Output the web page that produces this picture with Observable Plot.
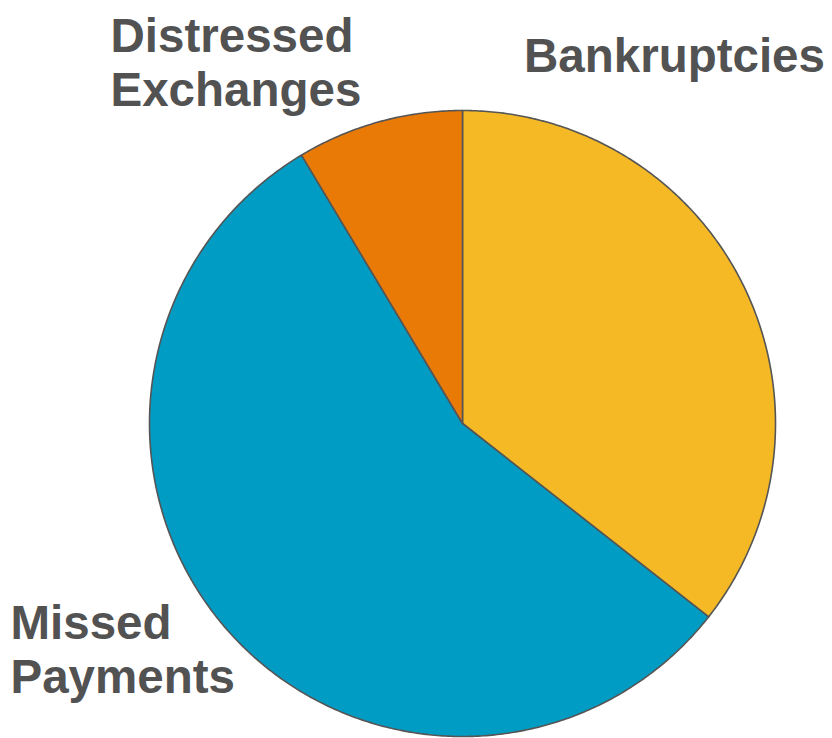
<!DOCTYPE html>
<html>
<head>
<meta charset="utf-8">
<script src="https://cdn.jsdelivr.net/npm/d3@7"></script>
<script src="https://cdn.jsdelivr.net/npm/@observablehq/plot@0.6"></script>
<style>
  html, body { margin: 0; padding: 0; background: #ffffff; }
  svg { display: block; }
</style>
</head>
<body>
<div id="chart"></div>
<script>
// Data, clockwise from 12 o'clock
const categories = ["Bankruptcies", "Missed Payments", "Distressed Exchanges"];
const shares = [35.6, 55.8, 8.6];
const sliceColors = ["#F5B926", "#009CC4", "#E97A06"];
const labelTexts = ["Bankruptcies", "Missed\nPayments", "Distressed\nExchanges"];

// Build slice outlines (unit circle, angles clockwise from top) with d3.pie
const arcs = d3.pie().sort(null).value(d => d)(shares);
const slicePoints = [];
arcs.forEach((a, i) => {
  const name = categories[i];
  const color = sliceColors[i];
  slicePoints.push({name, color, x: 0, y: 0});
  const n = Math.max(2, Math.ceil((a.endAngle - a.startAngle) / (Math.PI / 360)));
  for (let k = 0; k <= n; k++) {
    const t = a.startAngle + (a.endAngle - a.startAngle) * k / n;
    slicePoints.push({name, color, x: Math.sin(t), y: Math.cos(t)});
  }
});

const textStyle = {
  text: d => d,
  fontSize: 47.5,
  fontWeight: "bold",
  fontFamily: "'Liberation Sans', Arial, sans-serif",
  fill: "#525252",
  textAnchor: "start",
  lineAnchor: "bottom",
  lineHeight: 1.12,
  frameAnchor: "top-left"
};

const chart = Plot.plot({
  width: 832,
  height: 738,
  margin: 0,
  style: {background: "#ffffff"},
  x: {domain: [-1, 1], range: [149, 775], axis: null},
  y: {domain: [-1, 1], range: [736, 110], axis: null},
  marks: [
    Plot.line(slicePoints, {
      x: "x", y: "y", z: "name", fill: "color",
      stroke: "#555555", strokeWidth: 1.6, strokeLinejoin: "round",
      curve: "linear-closed"
    }),
    Plot.text([labelTexts[0]], {...textStyle, dx: 523.5, dy: 71}),
    Plot.text([labelTexts[1]], {...textStyle, dx: 10, dy: 692}),
    Plot.text([labelTexts[2]], {...textStyle, dx: 110, dy: 105})
  ]
});
document.getElementById("chart").appendChild(chart);
</script>
</body>
</html>
